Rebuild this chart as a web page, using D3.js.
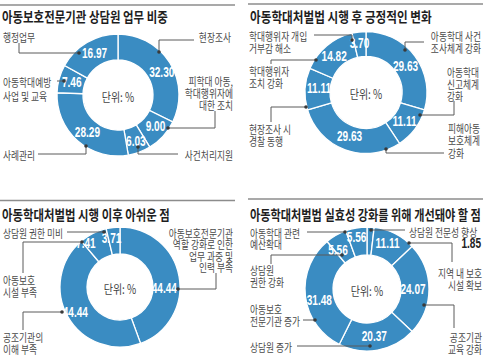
<!DOCTYPE html>
<html><head><meta charset="utf-8">
<script src="https://cdn.jsdelivr.net/npm/d3@7"></script>
<style>body{margin:0;background:#fff}svg{display:block}</style>
</head><body><svg id="c" width="483" height="360"></svg>
<script>
// ---------- DATA ----------
const chart1Title = "아동보호전문기관 상담원 업무 비중";
const chart1Categories = ["현장조사", "피학대 아동, 학대행위자에 대한 조치", "사건처리지원", "사례관리", "아동학대예방 사업 및 교육", "행정업무"];
const chart1Values = [32.30, 9.00, 6.03, 28.29, 7.46, 16.97];

const chart2Title = "아동학대처벌법 시행 후 긍정적인 변화";
const chart2Categories = ["아동학대 사건 조사체계 강화", "아동학대 신고체계 강화", "피해아동 보호체계 강화", "현장조사 시 경찰 동행", "학대행위자 조치 강화", "학대행위자 개입 거부감 해소"];
const chart2Values = [29.63, 11.11, 29.63, 11.11, 14.82, 3.70];

const chart3Title = "아동학대처벌법 시행 이후 아쉬운 점";
const chart3Categories = ["아동보호전문기관 역할 강화로 인한 업무 과중 및 인력 부족", "공조기관의 이해 부족", "아동보호 시설 부족", "상담원 권한 미비"];
const chart3Values = [44.44, 44.44, 7.41, 3.71];

const chart4Title = "아동학대처벌법 실효성 강화를 위해 개선돼야 할 점";
const chart4Categories = ["상담원 전문성 향상", "지역 내 보호시설 확보", "공조기관 교육 강화", "상담원 증가", "아동보호 전문기관 증가", "상담원 권한 강화", "아동학대 관련 예산확대"];
const chart4Values = [1.85, 11.11, 24.07, 20.37, 31.48, 5.56, 5.56];

const unitLabel = "단위: %";

// ---------- LAYOUT / STYLE ----------
const blue = "#3a8cc2";
const KR = "'Noto Sans CJK KR','Noto Sans',sans-serif";
const NUM = "'Liberation Sans','Arial',sans-serif";
const fmt = d3.format(".2f");
const svg = d3.select("#c");

const layouts = [
  { title: chart1Title, cats: chart1Categories, vals: chart1Values,
    rule: [0, 235, 5], titlePos: [2, 16, 166],
    cx: 118, cy: 95, ro: 61, ri: 35, lr: 48,
    offsets: [[3,3],[2,-1],[1,1],[1,1],[0,0],[1,0]],
    hide: [],
    callouts: [
      { lines: ["현장조사"], anchor: "end", x: 231, y: [36], path: [[194,40],[159,40],[159,52]] },
      { lines: ["피학대 아동,", "학대행위자에", "대한 조치"], anchor: "end", x: 233, y: [80, 92, 104], path: [[215,111],[215,128],[168,128]] },
      { lines: ["사건처리지원"], anchor: "end", x: 233, y: [154], path: [[178,154],[138,154],[138,147]] },
      { lines: ["사례관리"], anchor: "start", x: 3, y: [154], path: [[38,154],[86,154],[86,146]] },
      { lines: ["아동학대예방", "사업 및 교육"], anchor: "start", x: 3, y: [81, 95], path: [[57,81],[64,81]] },
      { lines: ["행정업무"], anchor: "start", x: 3, y: [36], path: [[19,43],[19,53],[79,53]] }
    ] },
  { title: chart2Title, cats: chart2Categories, vals: chart2Values,
    rule: [248, 483, 4], titlePos: [250, 16, 182],
    cx: 366, cy: 92.5, ro: 61, ri: 36, lr: 48,
    offsets: [[1,3],[0,0],[0,-1],[1,-1],[-1,1],[-1,-1]],
    hide: [],
    callouts: [
      { lines: ["아동학대 사건", "조사체계 강화"], anchor: "end", x: 481, y: [35, 47], path: [[424,42],[405,42],[405,50]] },
      { lines: ["아동학대", "신고체계", "강화"], anchor: "start", x: 447, y: [71, 83, 95], path: [[454,101],[454,115],[420,115]] },
      { lines: ["피해아동", "보호체계", "강화"], anchor: "start", x: 448, y: [127, 139, 152], path: [[444,153],[386,153],[386,149]] },
      { lines: ["현장조사 시", "경찰 동행"], anchor: "start", x: 249, y: [128, 140], path: [[271,122],[271,107],[306,107]] },
      { lines: ["학대행위자", "조치 강화"], anchor: "start", x: 249, y: [70, 82], path: [[271,64],[271,60],[316,60]] },
      { lines: ["학대행위자 개입", "거부감 해소"], anchor: "start", x: 249, y: [35, 47], path: [[314,35],[352,35],[352,40]] }
    ] },
  { title: chart3Title, cats: chart3Categories, vals: chart3Values,
    rule: [0, 235, 200.5], titlePos: [2, 213.5, 168],
    cx: 120, cy: 287, ro: 60, ri: 33, lr: 47,
    offsets: [[-2,10],[-4,2],[-13,-2],[-3,-2]],
    hide: [],
    callouts: [
      { lines: ["아동보호전문기관", "역할 강화로 인한", "업무 과중 및", "인력 부족"], anchor: "end", x: 233, y: [232, 243.5, 255, 266.5], path: [[216,273],[216,289],[178,289]] },
      { lines: ["공조기관의", "이해 부족"], anchor: "start", x: 3, y: [336, 348], path: [[23,330],[23,312],[62,312]] },
      { lines: ["아동보호", "시설 부족"], anchor: "start", x: 3, y: [279, 291], path: [[23,273],[23,242],[82,242]] },
      { lines: ["상담원 권한 미비"], anchor: "start", x: 3, y: [232], path: [[67,232],[104,232]] }
    ] },
  { title: chart4Title, cats: chart4Categories, vals: chart4Values,
    rule: [248, 483, 199], titlePos: [250, 213.5, 231],
    cx: 367, cy: 289, ro: 62, ri: 34, lr: 48,
    offsets: [[0,0],[-1,-3],[-2,0],[-1,0],[0,6],[-5,3],[-2,-4]],
    hide: [0],
    outside: { idx: 0, x: 481, y: 243 },
    callouts: [
      { lines: ["상담원 전문성 향상"], anchor: "start", x: 409, y: [231], path: [[405,230],[371,230]] },
      { lines: ["지역 내 보호", "시설 확보"], anchor: "end", x: 482, y: [272, 284], path: [[452,262],[452,243],[409,243]] },
      { lines: ["공조기관", "교육 강화"], anchor: "end", x: 482, y: [336, 348], path: [[454,328],[454,305],[424,305]] },
      { lines: ["상담원 증가"], anchor: "start", x: 250, y: [346], path: [[297,346],[370,346]] },
      { lines: ["아동보호", "전문기관 증가"], anchor: "start", x: 250, y: [308, 320], path: [[303,320],[315,320]] },
      { lines: ["상담원", "권한 강화"], anchor: "start", x: 250, y: [269, 281], path: [[271,264],[271,255],[342,255]] },
      { lines: ["아동학대 관련", "예산확대"], anchor: "start", x: 250, y: [232, 243.5], path: [[307,232],[345,232]] }
    ] }
];

function scaledText(g, x, y, str, anchor, size, weight, fill, family, sx) {
  return g.append("text")
    .attr("transform", `translate(${x},${y}) scale(${sx},1)`)
    .attr("text-anchor", anchor)
    .attr("dominant-baseline", "central")
    .attr("font-family", family)
    .attr("font-size", size)
    .attr("font-weight", weight)
    .attr("fill", fill)
    .text(str);
}

function multiText(g, c) {
  const t = g.append("text")
    .attr("transform", `translate(${c.x},${c.y[0]}) scale(0.76,1)`)
    .attr("text-anchor", c.anchor)
    .attr("dominant-baseline", "central")
    .attr("font-family", KR)
    .attr("font-size", 11.5)
    .attr("fill", "#4a4a4a");
  c.lines.forEach((ln, k) => {
    t.append("tspan")
      .attr("x", 0)
      .attr("y", c.y[k] - c.y[0])
      .attr("dominant-baseline", "central")
      .text(ln);
  });
  return t;
}

layouts.forEach(L => {
  const g = svg.append("g");
  // top rule
  g.append("line")
    .attr("x1", L.rule[0]).attr("x2", L.rule[1])
    .attr("y1", L.rule[2]).attr("y2", L.rule[2])
    .attr("stroke", "#8c8c8c").attr("stroke-width", 1.5);
  // title, horizontally fitted to its width in the reference
  const t = g.append("text")
    .attr("text-anchor", "start")
    .attr("dominant-baseline", "central")
    .attr("font-family", KR).attr("font-size", 14).attr("font-weight", 700)
    .attr("fill", "#1e1e1e").text(L.title);
  const natural = t.node().getComputedTextLength();
  t.attr("transform", `translate(${L.titlePos[0]},${L.titlePos[1]}) scale(${L.titlePos[2] / natural},1)`);

  const data = L.cats.map((c, i) => ({ cat: c, v: L.vals[i], i }));
  const pie = d3.pie().sort(null).value(d => d.v);
  const arcs = pie(data);
  const arc = d3.arc().innerRadius(L.ri).outerRadius(L.ro);
  const labelArc = d3.arc().innerRadius(L.lr).outerRadius(L.lr);

  const dg = g.append("g").attr("transform", `translate(${L.cx},${L.cy})`);
  dg.selectAll("path.slice").data(arcs).join("path")
    .attr("class", "slice")
    .attr("d", arc)
    .attr("fill", blue)
    .attr("stroke", "#fff")
    .attr("stroke-width", 1.3);

  // center unit label
  scaledText(dg, 0, 1, unitLabel, "middle", 12.5, 400, "#444", KR, 0.8);

  // callouts (leader lines + texts)
  L.callouts.forEach(c => {
    g.append("path")
      .attr("d", d3.line()(c.path))
      .attr("fill", "none").attr("stroke", "#5a5a5a").attr("stroke-width", 1);
    const end = c.path[c.path.length - 1];
    g.append("circle").attr("cx", end[0]).attr("cy", end[1]).attr("r", 1.8).attr("fill", "#3a3a3a");
    multiText(g, c);
  });

  // slice value labels
  arcs.forEach((a, i) => {
    if (L.hide.includes(i)) return;
    const [x, y] = labelArc.centroid(a);
    const o = L.offsets[i] || [0, 0];
    scaledText(dg, x + o[0], y + o[1], fmt(a.data.v), "middle", 14, 700, "#fff", NUM, 0.72);
  });

  if (L.outside) {
    scaledText(g, L.outside.x, L.outside.y, fmt(L.vals[L.outside.idx]), "end", 14, 700, "#222", NUM, 0.72);
  }
});
</script>
</body></html>
